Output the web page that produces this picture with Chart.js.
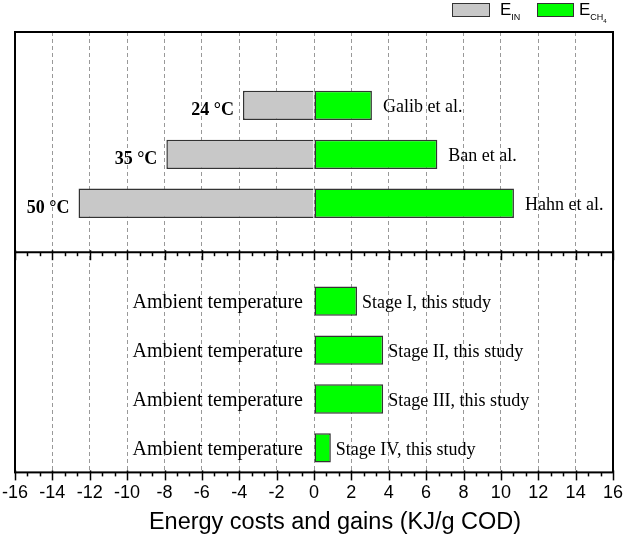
<!DOCTYPE html>
<html>
<head>
<meta charset="utf-8">
<script src="https://cdn.jsdelivr.net/npm/chart.js@4.4.1/dist/chart.umd.min.js"></script>
<style>
  html, body { margin: 0; padding: 0; background: #fff; }
  #wrap { position: relative; width: 625px; height: 543px; }
  .key { position: absolute; top: 3px; height: 14px; border: 1.5px solid #333; box-sizing: border-box; }
  .keytxt { position: absolute; top: 0px; font: 17px "Liberation Sans", Arial, sans-serif; color: #000; line-height: 20px; }
  .keytxt sub { font-size: 9px; vertical-align: -5px; }
  .keytxt sub sub { font-size: 6px; vertical-align: -3px; }
</style>
</head>
<body>
<div id="wrap">
  <canvas id="chart" width="625" height="543"></canvas>
  <div class="key" style="left:452px;width:38px;background:#C8C8C8"></div>
  <div class="keytxt" style="left:500px">E<sub>IN</sub></div>
  <div class="key" style="left:537px;width:37px;background:#00FF00"></div>
  <div class="keytxt" style="left:579px">E<sub>CH<sub>4</sub></sub></div>
</div>
<script>
// literature studies (upper panel)
const studies = ['Galib et al.', 'Ban et al.', 'Hahn et al.'];
const studyTemps = ['24 °C', '35 °C', '50 °C'];
const studyEin = [-3.8, -7.9, -12.6];
const studyEch4 = [3.1, 6.6, 10.7];

// this study (lower panel)
const stages = ['Stage I, this study', 'Stage II, this study', 'Stage III, this study', 'Stage IV, this study'];
const stageTemps = ['Ambient temperature', 'Ambient temperature', 'Ambient temperature', 'Ambient temperature'];
const stageEch4 = [2.3, 3.7, 3.7, 0.9];

// x axis
const xMin = -16, xMax = 16, xStep = 2;
const xTitle = 'Energy costs and gains (KJ/g COD)';

// one empty row on top and one between the two panels
const rowLabels = [''].concat(studies, [''], stages);
const leftLabels = [''].concat(studyTemps, [''], stageTemps);
const einData = [null].concat(studyEin, [null], stages.map(() => null));
const ech4Data = [null].concat(studyEch4, [null], stageEch4);
const dividerRow = studies.length + 1;

const serif = '"Liberation Serif", "Times New Roman", serif';
const sans = '"Liberation Sans", Arial, sans-serif';

const framePlugin = {
  id: 'frame',
  afterDatasetsDraw(chart) {
    const ctx = chart.ctx;
    const a = chart.chartArea;
    const x = chart.scales.x;
    const y = chart.scales.y;
    const yDiv = y.getPixelForValue(dividerRow);
    ctx.save();
    // frame + divider
    ctx.strokeStyle = '#000';
    ctx.lineWidth = 2;
    ctx.strokeRect(a.left, a.top, a.right - a.left, a.bottom - a.top);
    ctx.beginPath();
    ctx.moveTo(a.left, yDiv);
    ctx.lineTo(a.right, yDiv);
    ctx.stroke();
    // major + minor ticks, pointing down
    ctx.lineWidth = 1.5;
    const n = (xMax - xMin) / xStep * 3;
    [yDiv, a.bottom].forEach(yy => {
      for (let i = 0; i <= n; i++) {
        const px = Math.round(x.getPixelForValue(xMin + i * xStep / 3)) + 0.5;
        const major = i % 3 === 0;
        ctx.beginPath();
        ctx.moveTo(px, yy - (major ? 2 : 0));
        ctx.lineTo(px, yy + (major ? 8 : 4));
        ctx.stroke();
      }
    });
    // labels beside the bars
    ctx.fillStyle = '#000';
    ctx.textBaseline = 'middle';
    rowLabels.forEach((lab, i) => {
      if (!lab) return;
      const py = y.getPixelForValue(i);
      ctx.textAlign = 'left';
      ctx.font = '18px ' + serif;
      ctx.fillText(lab, x.getPixelForValue(ech4Data[i]) + (einData[i] === null ? 5 : 11), py + 2);
      ctx.textAlign = 'right';
      if (einData[i] !== null) {
        ctx.font = 'bold 18px ' + serif;
        ctx.fillText(leftLabels[i], x.getPixelForValue(einData[i]) - 9, py + 5);
      } else {
        ctx.font = '20px ' + serif;
        ctx.fillText(leftLabels[i], x.getPixelForValue(0) - 11, py + 2);
      }
    });
    // axis title (sits a bit right of centre in the original)
    ctx.textAlign = 'center';
    ctx.font = '23.5px ' + sans;
    ctx.fillText(xTitle, (a.left + a.right) / 2 + 21, 523);
    ctx.restore();
  }
};

new Chart(document.getElementById('chart'), {
  type: 'bar',
  data: {
    labels: rowLabels,
    datasets: [
      {
        label: 'E_IN',
        data: einData,
        backgroundColor: '#C8C8C8',
        borderColor: '#333',
        borderWidth: 1.5,
        borderSkipped: 'start'
      },
      {
        label: 'E_CH4',
        data: ech4Data,
        backgroundColor: '#00FF00',
        borderColor: '#333',
        borderWidth: 1.5,
        borderSkipped: false
      }
    ]
  },
  options: {
    indexAxis: 'y',
    responsive: false,
    animation: false,
    layout: { padding: { left: 15, right: 12, top: 32, bottom: 29 } },
    datasets: { bar: { barPercentage: 0.6, categoryPercentage: 1 } },
    plugins: { legend: { display: false }, tooltip: { enabled: false } },
    scales: {
      x: {
        stacked: true,
        min: xMin,
        max: xMax,
        ticks: { stepSize: xStep, color: '#000', font: { family: sans, size: 18 }, padding: 10, maxRotation: 0 },
        grid: { color: '#999', lineWidth: 1, drawTicks: false },
        border: { display: false, dash: [4, 3] },
        afterFit(scale) {
          // let the end labels hang over the frame like the original
          scale.paddingLeft = 0;
          scale.paddingRight = 0;
        }
      },
      y: {
        stacked: true,
        display: false
      }
    }
  },
  plugins: [framePlugin]
});
</script>
</body>
</html>
